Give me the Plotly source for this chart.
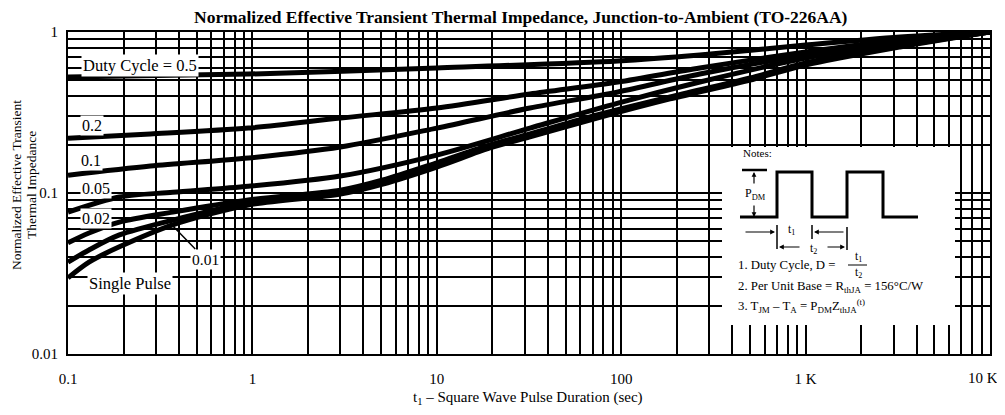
import plotly.graph_objects as go

# ---------------- data ----------------
t_d05 = [0.1, 0.95, 10, 96, 267, 1000, 3250, 10000]
z_d05 = [0.525, 0.548, 0.598, 0.661, 0.720, 0.830, 0.931, 1.0]

t_d02 = [0.1, 0.28, 0.95, 3.0, 10, 32, 96, 267, 1000, 3250, 10000]
z_d02 = [0.219, 0.2325, 0.253, 0.292, 0.337, 0.412, 0.489, 0.598, 0.751, 0.892, 1.0]

t_d01 = [0.1, 0.28, 0.95, 3.0, 10, 32, 96, 267, 1000, 3250, 10000]
z_d01 = [0.129, 0.147, 0.165, 0.193, 0.253, 0.337, 0.424, 0.548, 0.720, 0.879, 1.0]

t_d005 = [0.1, 0.19, 0.37, 0.95, 3.0, 10, 32, 96, 267, 1000, 3250, 10000]
z_d005 = [0.0761, 0.0945, 0.101, 0.110, 0.1275, 0.172, 0.253, 0.362, 0.489, 0.689, 0.867, 1.0]

t_d002 = [0.1, 0.13, 0.19, 0.37, 0.95, 3.0, 5.1, 10, 19.4, 32, 74, 184, 500, 1000, 3250, 10000]
z_d002 = [0.049, 0.0564, 0.066, 0.0761, 0.0905, 0.104, 0.1204, 0.154, 0.1987, 0.2325, 0.305, 0.395, 0.518, 0.642, 0.830, 1.0]

t_d001 = [0.1, 0.13, 0.19, 0.37, 0.95, 3.0, 5.1, 10, 19.4, 32, 74, 184, 500, 1000, 3250, 10000]
z_d001 = [0.0372, 0.0443, 0.0549, 0.0679, 0.0867, 0.101, 0.117, 0.149, 0.1957, 0.229, 0.301, 0.389, 0.511, 0.633, 0.818, 1.0]

t_single = [0.1, 0.13, 0.19, 0.37, 0.95, 3.0, 5.1, 10, 19.4, 32, 74, 184, 500, 1000, 3250, 10000]
z_single = [0.0297, 0.0372, 0.0463, 0.0634, 0.0842, 0.0986, 0.1137, 0.145, 0.1904, 0.223, 0.292, 0.384, 0.503, 0.624, 0.807, 1.0]

x_decades = [0.1, 1, 10, 100, 1000, 10000]
x_labels = ["0.1", "1", "10", "100", "1 K", "10 K"]
y_decades = [0.01, 0.1, 1]
y_labels = ["0.01", "0.1", "1"]

series = [
    (t_d05, z_d05), (t_d02, z_d02), (t_d01, z_d01), (t_d005, z_d005),
    (t_d002, z_d002), (t_d001, z_d001), (t_single, z_single),
]

# ---------------- grid positions ----------------
def log_grid(decades, labels):
    vals, texts = [], []
    for i, d in enumerate(decades[:-1]):
        for k in range(1, 10):
            vals.append(d * k)
            texts.append(labels[i] if k == 1 else "")
    vals.append(decades[-1])
    texts.append(labels[-1])
    return vals, texts

xv, xt = log_grid(x_decades, x_labels)
xt[-1] = ""   # last label is placed separately so it is not clipped at the page edge
yv, yt = log_grid(y_decades, y_labels)

FONT = "Liberation Serif, Times New Roman, serif"

fig = go.Figure()
for tx, zy in series:
    fig.add_trace(go.Scatter(
        x=tx, y=zy, mode="lines",
        line=dict(color="black", width=5, shape="spline", smoothing=0.8),
        showlegend=False, hoverinfo="skip",
    ))

# page has an 8px body margin; plot area wanted at page x 68..990, y 32..354
OFF = 8
L, R, T, B = 68, 990, 32, 354
W, H = 1005 - OFF, 415 - 2 * OFF
def PX(x):
    return (x - L) / (R - L)
def PY(y):
    return (B - y) / (B - T)

fig.update_layout(
    width=W, height=H,
    margin=dict(l=L - OFF, r=W - (R - OFF), t=T - OFF, b=H - (B - OFF), pad=0),
    paper_bgcolor="white", plot_bgcolor="white",
    font=dict(family=FONT, color="black", size=15),
    xaxis=dict(
        type="log", range=[-1, 4], tickvals=xv, ticktext=xt,
        showgrid=True, gridcolor="black", gridwidth=1.8,
        showline=True, linecolor="black", linewidth=2, mirror=True,
        ticks="", ticklabelstandoff=10, tickfont=dict(size=15, family=FONT),
        ticklabeloverflow="allow",
        zeroline=False, automargin=False,
    ),
    yaxis=dict(
        type="log", range=[-2, 0], tickvals=yv, ticktext=yt,
        showgrid=True, gridcolor="black", gridwidth=1.8,
        showline=True, linecolor="black", linewidth=2, mirror=True,
        ticks="", ticklabelstandoff=5, tickfont=dict(size=15, family=FONT),
        ticklabeloverflow="allow",
        zeroline=False, automargin=False,
    ),
)

ann = []
def text(x, y, s, size=16, bg="white", xanchor="center", **kw):
    ann.append(dict(x=PX(x), y=PY(y), xref="paper", yref="paper", text=s,
                    showarrow=False, xanchor=xanchor, yanchor="middle",
                    font=dict(family=FONT, size=size, color="black"),
                    bgcolor=bg, borderpad=1, **kw))

# last x tick label
text(1000, 378, x_labels[-1], size=15, bg=None, xanchor="right")

# title & axis titles
ann.append(dict(x=PX(521), y=PY(17), xref="paper", yref="paper", showarrow=False,
                text="<b>Normalized Effective Transient Thermal Impedance, Junction-to-Ambient (TO-226AA)</b>",
                font=dict(family=FONT, size=17.5, color="black"), xanchor="center", yanchor="middle"))
for xc, line in [(17, "Normalized Effective Transient"), (32, "Thermal Impedance")]:
    ann.append(dict(x=PX(xc), y=PY(185), xref="paper", yref="paper", showarrow=False, textangle=-90,
                    text=line, font=dict(family=FONT, size=13.5, color="black"),
                    xanchor="center", yanchor="middle"))
ann.append(dict(x=PX(528), y=PY(398), xref="paper", yref="paper", showarrow=False,
                text="t<sub>1</sub> \u2013 Square Wave Pulse Duration (sec)",
                font=dict(family=FONT, size=15, color="black"), xanchor="center", yanchor="middle"))

# curve labels
text(140, 65, "Duty Cycle = 0.5", size=16.5)
text(92, 125, "0.2")
text(91, 160, "0.1")
text(96, 188, "0.05")
text(96, 218, "0.02")
text(130, 283, "Single Pulse", size=16.5)
ann.append(dict(x=PX(170), y=PY(223), xref="paper", yref="paper", text="0.01",
                showarrow=True, arrowhead=0, arrowwidth=1.5, arrowcolor="black",
                ax=35, ay=36, font=dict(family=FONT, size=15.5, color="black"),
                bgcolor="white", borderpad=1))

shapes = []
# notes inset white area
shapes.append(dict(type="rect", xref="paper", yref="paper",
                   x0=PX(722), x1=PX(955), y0=PY(325), y1=PY(147),
                   fillcolor="white", line=dict(width=0), layer="above"))
# pulse waveform
pts = [(740, 217), (777, 217), (777, 172), (812, 172), (812, 217), (847, 217),
       (847, 172), (883, 172), (883, 217), (918, 217)]
path = "M " + " L ".join(f"{PX(a):.5f},{PY(b):.5f}" for a, b in pts)
shapes.append(dict(type="path", path=path, xref="paper", yref="paper",
                   line=dict(color="black", width=3), layer="above"))
def seg(x0, y0, x1, y1, w=1.5):
    shapes.append(dict(type="line", xref="paper", yref="paper",
                       x0=PX(x0), y0=PY(y0), x1=PX(x1), y1=PY(y1),
                       line=dict(color="black", width=w), layer="above"))
seg(742, 170, 767, 170, 2.5)        # P_DM top bar
seg(777, 225, 777, 249)              # t1/t2 left bar
seg(812, 225, 812, 239)              # t1 right bar
seg(847, 227, 847, 250)              # t2 right bar
seg(848, 265, 867, 265, 1)           # fraction bar

def arrow(hx, hy, tx, ty):
    ann.append(dict(x=PX(hx), y=PY(hy), xref="paper", yref="paper", text="",
                    showarrow=True, arrowhead=2, arrowsize=0.8, arrowwidth=1.2,
                    arrowcolor="black", ax=tx - hx, ay=ty - hy, standoff=0))
arrow(754, 172, 754, 185)
arrow(754, 217, 754, 204)
arrow(775, 232, 744, 232)
arrow(814, 232, 845, 232)
arrow(779, 247, 801, 247)
arrow(845, 247, 826, 247)

NS = 12.8
text(741, 153, "Notes:", size=11, bg=None, xanchor="left")
text(743, 194, "P<sub>DM</sub>", size=12, bg=None, xanchor="left")
text(791, 230, "t<sub>1</sub>", size=11.5, bg=None)
text(813, 249, "t<sub>2</sub>", size=11.5, bg=None)
text(736, 265, "1. Duty Cycle, D =", size=NS, bg=None, xanchor="left")
text(858, 257, "t<sub>1</sub>", size=11.5, bg=None)
text(858, 273, "t<sub>2</sub>", size=11.5, bg=None)
text(736, 287, "2. Per Unit Base = R<sub>thJA</sub> = 156\u00b0C/W", size=NS, bg=None, xanchor="left")
text(736, 306, "3. T<sub>JM</sub> \u2013 T<sub>A</sub> = P<sub>DM</sub>Z<sub>thJA</sub><sup>(t)</sup>",
     size=NS, bg=None, xanchor="left")

fig.update_layout(annotations=ann, shapes=shapes)
fig.write_html("out.html")
